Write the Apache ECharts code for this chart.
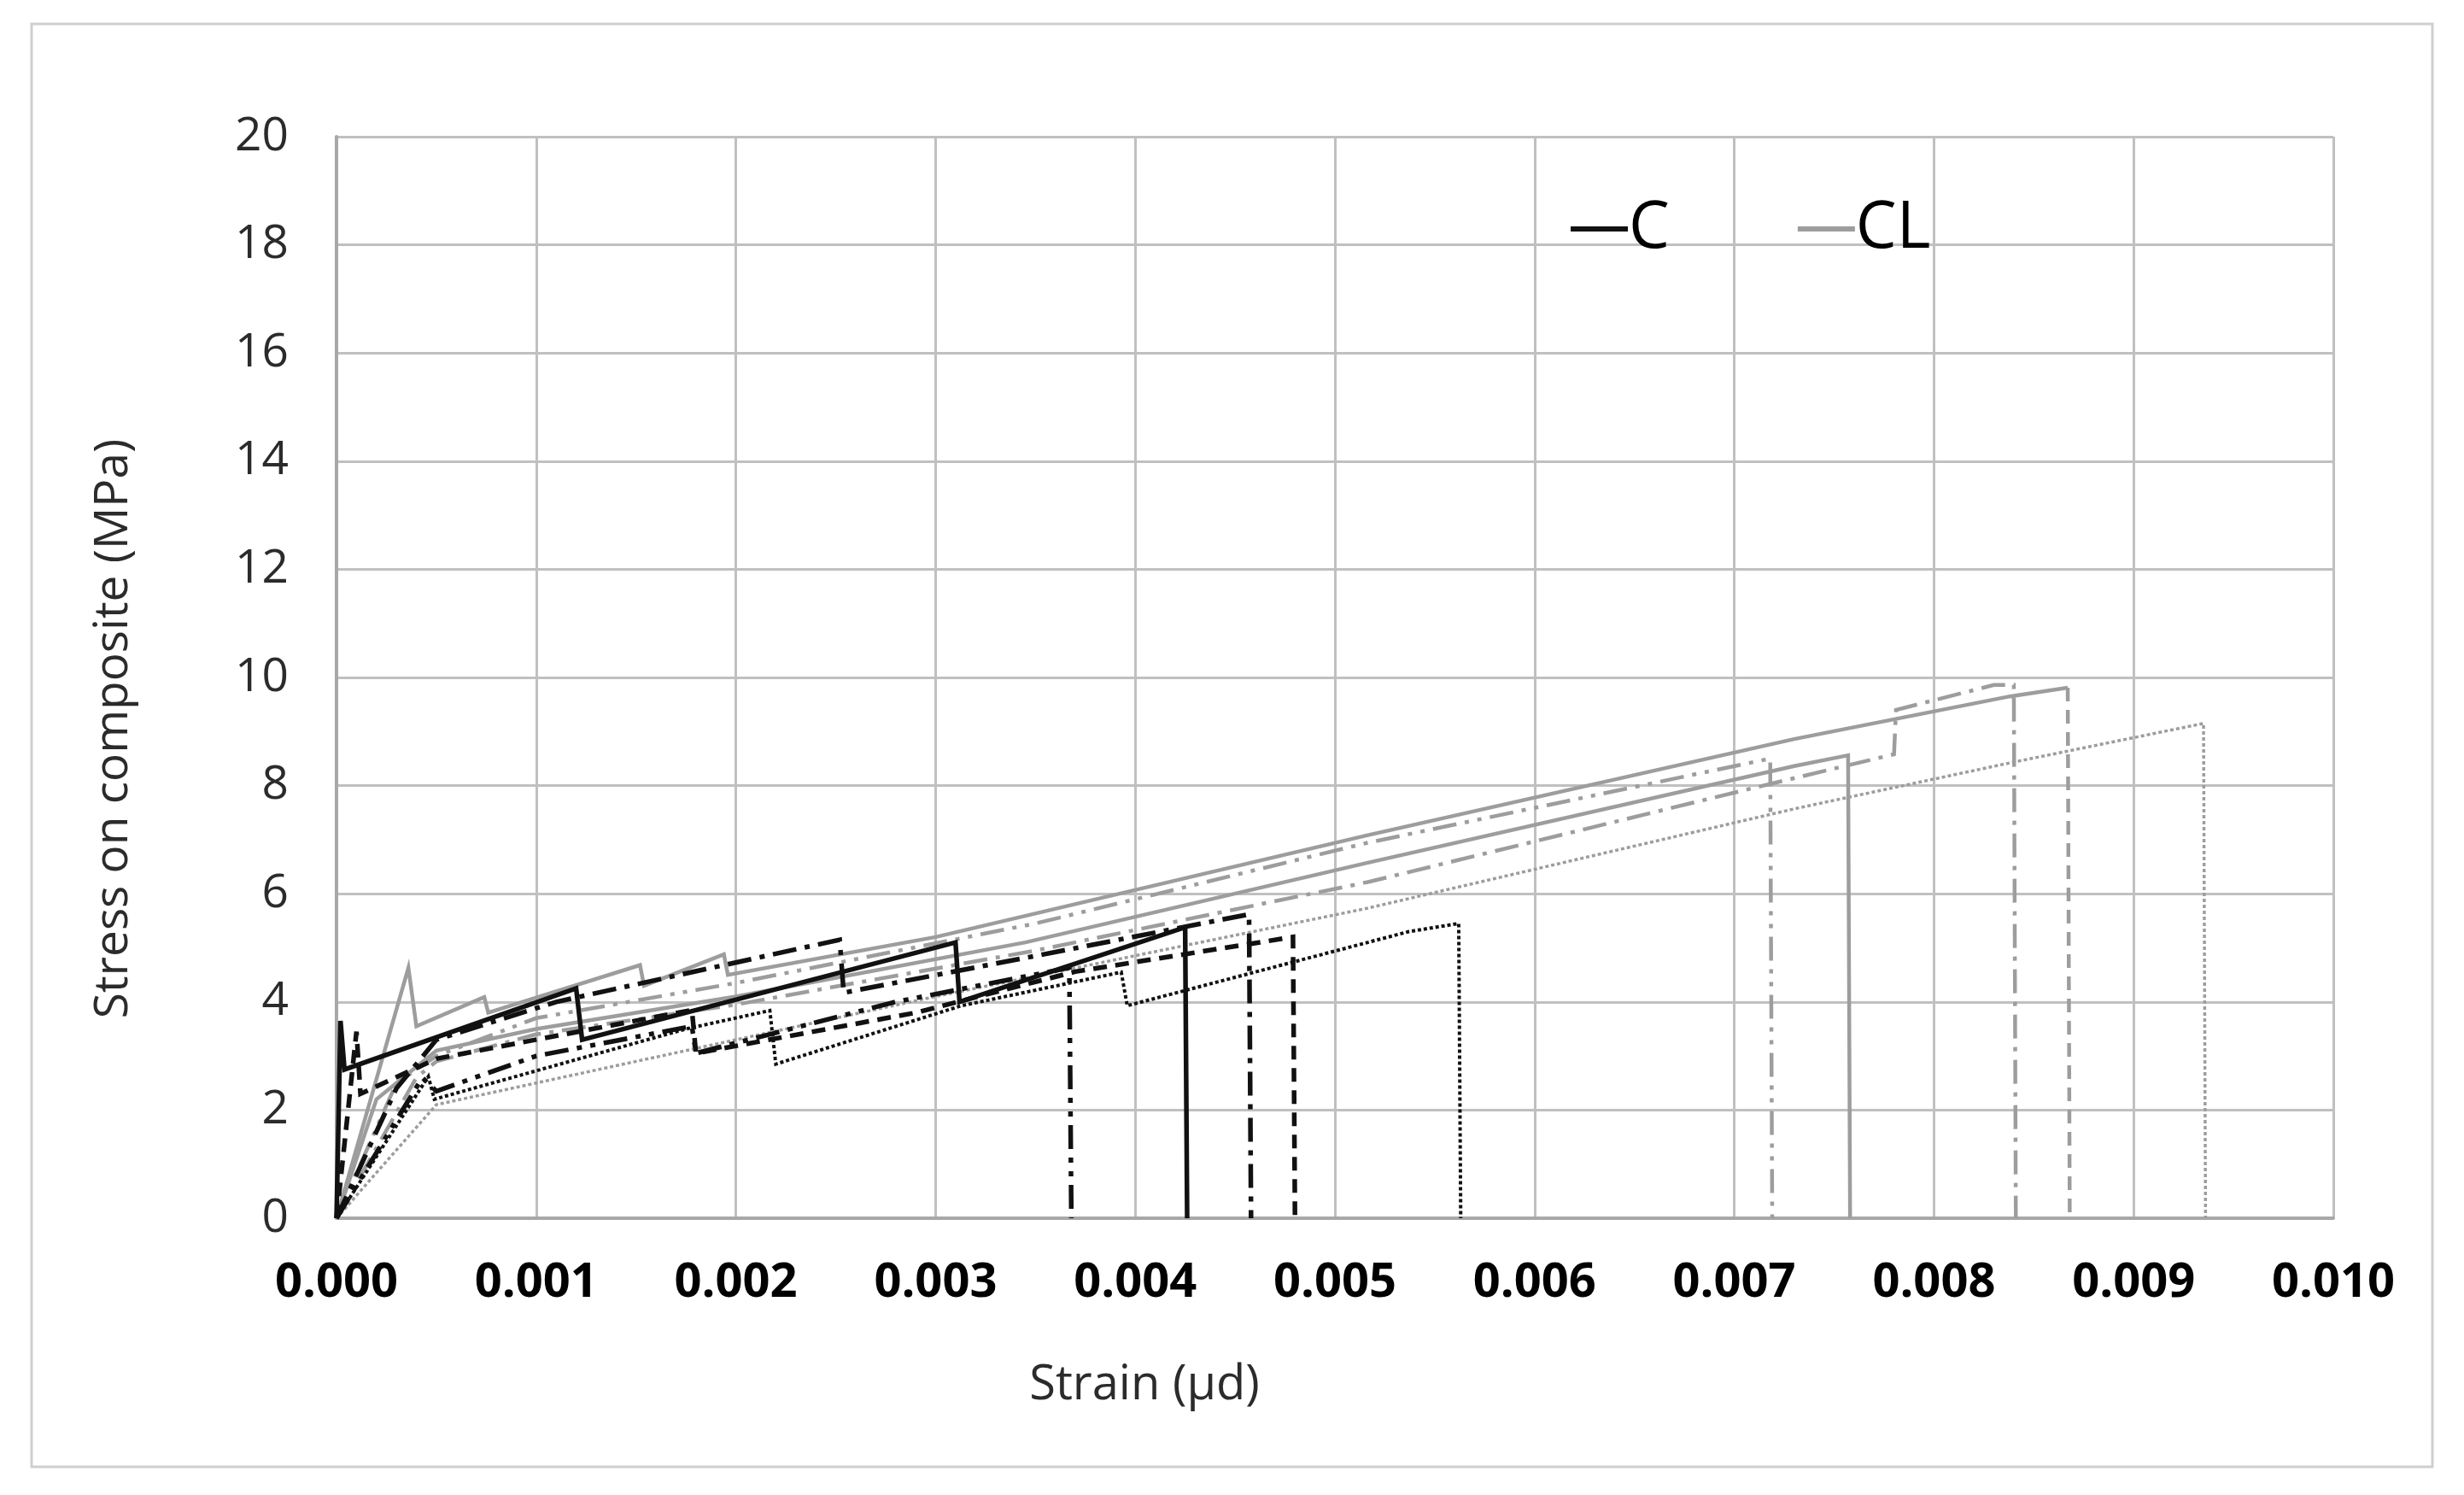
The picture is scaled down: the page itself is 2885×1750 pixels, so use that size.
<!DOCTYPE html>
<html>
<head>
<meta charset="utf-8">
<script src="https://cdn.jsdelivr.net/npm/echarts@6/dist/echarts.min.js"></script>
<style>
html,body{margin:0;padding:0;background:#fff;}
#chart{width:2885px;height:1750px;}
</style>
</head>
<body>
<div id="chart"></div>
<script>
// ---- tick labels ----
const xTicks = [0, 0.001, 0.002, 0.003, 0.004, 0.005, 0.006, 0.007, 0.008, 0.009, 0.010];
const yTicks = [0, 2, 4, 6, 8, 10, 12, 14, 16, 18, 20];

// ---- C specimens (black) : [strain, stress] ----
const cSolid = [[0,0],[0.00002,3.65],[0.00004,2.75],[0.0012,4.25],[0.00123,3.3],[0.0031,5.1],[0.00312,4.0],[0.00425,5.38],[0.00426,0]];
const cDashed = [[0,0],[0.0001,3.45],[0.00012,2.3],[0.0005,2.95],[0.00178,3.85],[0.0018,3.05],[0.0029,3.8],[0.0037,4.56],[0.00479,5.2],[0.0048,0]];
const cDashDot = [[0,0],[0.0003,2.4],[0.0005,3.3],[0.0011,4.0],[0.00252,5.15],[0.00254,4.17],[0.0035,4.85],[0.00457,5.62],[0.00458,0]];
const cDashDotDot = [[0,0],[0.00043,2.6],[0.0005,2.35],[0.001,3.0],[0.00178,3.55],[0.0018,3.05],[0.0028,4.0],[0.00367,4.63],[0.00368,0]];
const cDotted = [[0,0],[0.00046,2.62],[0.00049,2.2],[0.00175,3.5],[0.00217,3.84],[0.0022,2.85],[0.00313,3.93],[0.00393,4.55],[0.00396,3.93],[0.00537,5.3],[0.00562,5.45],[0.00563,0]];

// ---- CL specimens (grey) ----
const clSolid = [[0,0],[0.0002,2.2],[0.0005,3.1],[0.001,3.5],[0.002,4.1],[0.00345,5.1],[0.00516,6.57],[0.0073,8.36],[0.00757,8.56],[0.00758,0]];
const clUpper = [[0,0],[0.00036,4.63],[0.0004,3.55],[0.00074,4.09],[0.00076,3.8],[0.00152,4.68],[0.00154,4.3],[0.00194,4.88],[0.00196,4.5],[0.003,5.2],[0.00516,7.08],[0.0073,8.86],[0.00838,9.65],[0.00867,9.81]];
const clUpperDrop = [[0.00867,9.81],[0.00868,0]];
const clDashDot = [[0,0],[0.0004,2.6],[0.0005,2.9],[0.001,3.4],[0.002,3.95],[0.0035,4.95],[0.00517,6.22],[0.0071,7.96],[0.0078,8.58],[0.00781,9.4],[0.0083,9.86],[0.0084,9.86],[0.00841,0]];
const clDashDotDot = [[0,0],[0.0003,2.5],[0.0005,3.0],[0.001,3.7],[0.002,4.35],[0.0035,5.45],[0.00516,6.94],[0.00718,8.5],[0.00719,0]];
const clDotted = [[0,0],[0.0005,2.1],[0.00175,3.1],[0.003,4.1],[0.00516,5.73],[0.0073,7.57],[0.00838,8.42],[0.00935,9.15],[0.00936,0]];

const BLACK = '#111111';
const GREY = '#9d9d9d';

function mk(name, data, color, width, type) {
  return {
    name: name, type: 'line', data: data, symbol: 'none', showSymbol: false,
    lineStyle: {color: color, width: width, type: type, cap: 'butt', join: 'miter'},
    itemStyle: {color: color},
    silent: true, z: color === BLACK ? 4 : 3
  };
}

const chart = echarts.init(document.getElementById('chart'), null, {renderer: 'canvas'});
chart.setOption({
  animation: false,
  backgroundColor: '#ffffff',
  grid: {left: 394, right: 153, top: 160, bottom: 324, containLabel: false},
  legend: {
    data: ['C', 'CL'],
    left: 1834, top: 225,
    icon: 'rect', itemWidth: 67, itemHeight: 6, itemGap: 150,
    textStyle: {fontFamily: 'Open Sans', fontSize: 76, color: '#000', padding: [0, 0, 0, -4]},
    selectedMode: false
  },
  xAxis: {
    type: 'value', min: 0, max: 0.01, interval: 0.001,
    axisLine: {show: true, lineStyle: {color: '#a8a8a8', width: 4}},
    axisTick: {show: false},
    splitLine: {show: true, lineStyle: {color: '#c0c0c0', width: 3}},
    axisLabel: {
      margin: 48, fontFamily: 'Open Sans', fontWeight: 'bold', fontSize: 56, color: '#000',
      formatter: v => v.toFixed(3)
    }
  },
  yAxis: {
    type: 'value', min: 0, max: 20, interval: 2,
    axisLine: {show: true, lineStyle: {color: '#a8a8a8', width: 4}},
    axisTick: {show: false},
    splitLine: {show: true, lineStyle: {color: '#c0c0c0', width: 3}},
    axisLabel: {margin: 56, fontFamily: 'Open Sans', fontSize: 55, color: '#2b2b2b'}
  },
  graphic: [
    {type: 'rect', shape: {x: 37, y: 28, width: 2811, height: 1689}, style: {fill: 'none', stroke: '#cfcfcf', lineWidth: 3}, silent: true, z: -1},
    {type: 'text', x: 133, y: 853, rotation: Math.PI / 2, style: {text: 'Stress on composite (MPa)', fontFamily: 'Open Sans', fontSize: 55, fill: '#2b2b2b', textAlign: 'center', textVerticalAlign: 'middle'}},
    {type: 'text', x: 1340, y: 1622, style: {text: 'Strain (µd)', fontFamily: 'Open Sans', fontSize: 56, fill: '#2b2b2b', textAlign: 'center', textVerticalAlign: 'middle'}}
  ],
  series: [
    mk('CL', clUpper, GREY, 4.5, 'solid'),
    mk('CL', clUpperDrop, GREY, 4.5, [16, 10]),
    mk('CL', clSolid, GREY, 4.5, 'solid'),
    mk('CL', clDashDot, GREY, 4.5, [28, 10, 5, 10]),
    mk('CL', clDashDotDot, GREY, 4.5, [28, 10, 5, 10, 5, 10]),
    mk('CL', clDotted, GREY, 3.5, [4, 3]),
    mk('C', cSolid, BLACK, 5.5, 'solid'),
    mk('C', cDashed, BLACK, 5.5, [16, 10]),
    mk('C', cDashDot, BLACK, 5.5, [28, 10, 6, 10]),
    mk('C', cDashDotDot, BLACK, 5.5, [28, 10, 6, 10, 6, 10]),
    mk('C', cDotted, BLACK, 4, [4, 3])
  ]
});
</script>
</body>
</html>
